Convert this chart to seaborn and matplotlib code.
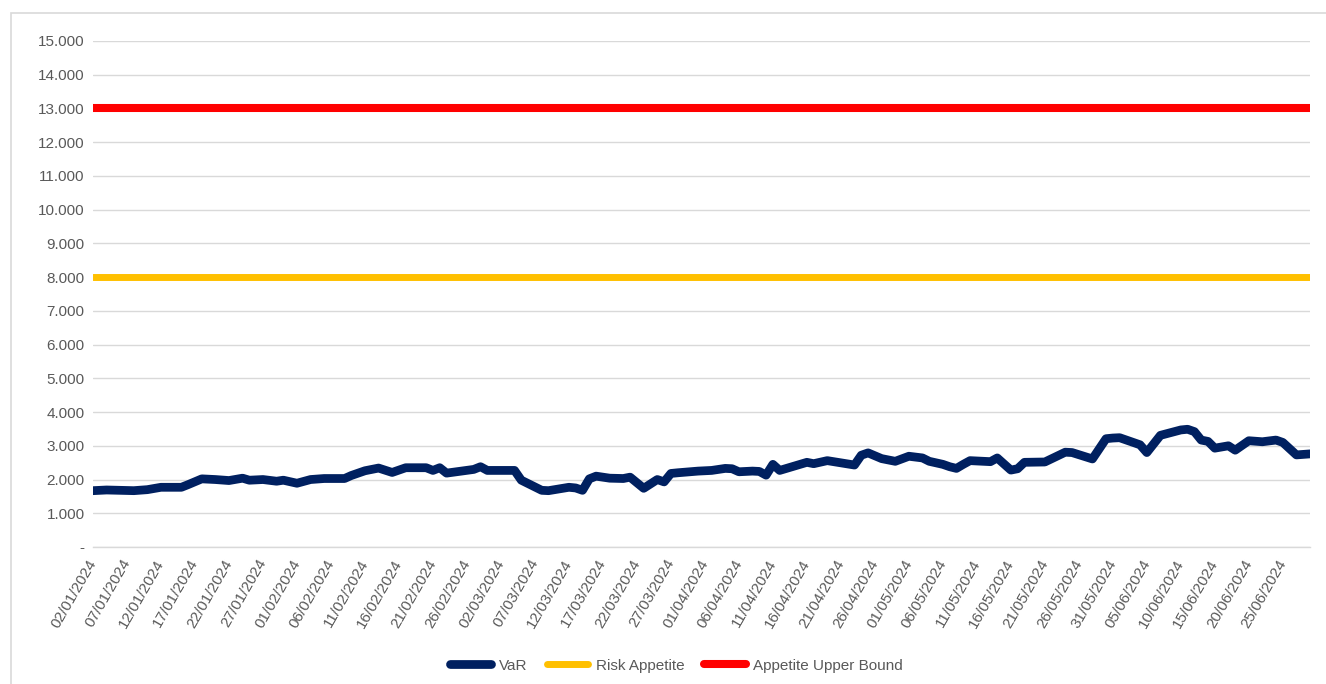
import matplotlib
matplotlib.use("Agg")
import matplotlib.pyplot as plt
import matplotlib.dates as mdates
from matplotlib.ticker import FuncFormatter, FixedLocator
from matplotlib.patches import Rectangle
import seaborn as sns
import pandas as pd

# ---------------- data ----------------
var_dates = [
    "02/01/2024", "04/01/2024", "08/01/2024", "10/01/2024", "12/01/2024", "15/01/2024",
    "16/01/2024", "18/01/2024", "20/01/2024", "22/01/2024", "24/01/2024", "25/01/2024",
    "27/01/2024", "29/01/2024", "30/01/2024", "01/02/2024", "03/02/2024", "05/02/2024",
    "08/02/2024", "09/02/2024", "11/02/2024", "13/02/2024", "15/02/2024", "17/02/2024",
    "20/02/2024", "21/02/2024", "22/02/2024", "23/02/2024", "27/02/2024", "28/02/2024",
    "29/02/2024", "04/03/2024", "05/03/2024", "06/03/2024", "08/03/2024", "09/03/2024",
    "12/03/2024", "13/03/2024", "14/03/2024", "15/03/2024", "16/03/2024", "18/03/2024",
    "20/03/2024", "21/03/2024", "23/03/2024", "25/03/2024", "26/03/2024", "27/03/2024",
    "28/03/2024", "31/03/2024", "02/04/2024", "04/04/2024", "05/04/2024", "06/04/2024",
    "08/04/2024", "09/04/2024", "10/04/2024", "11/04/2024", "12/04/2024", "16/04/2024",
    "17/04/2024", "19/04/2024", "23/04/2024", "24/04/2024", "25/04/2024", "27/04/2024",
    "29/04/2024", "01/05/2024", "03/05/2024", "04/05/2024", "06/05/2024", "07/05/2024",
    "08/05/2024", "09/05/2024", "10/05/2024", "13/05/2024", "14/05/2024", "16/05/2024",
    "17/05/2024", "18/05/2024", "21/05/2024", "24/05/2024", "25/05/2024", "28/05/2024",
    "30/05/2024", "31/05/2024", "01/06/2024", "03/06/2024", "04/06/2024", "05/06/2024",
    "07/06/2024", "10/06/2024", "11/06/2024", "12/06/2024", "13/06/2024", "14/06/2024",
    "15/06/2024", "17/06/2024", "18/06/2024", "20/06/2024", "22/06/2024", "24/06/2024",
    "25/06/2024", "27/06/2024", "29/06/2024",
]
var_values = [
    1670, 1690, 1670, 1700, 1770, 1770,
    1850, 2020, 2000, 1970, 2040, 1980,
    2000, 1950, 1980, 1890, 2000, 2030,
    2030, 2120, 2260, 2340, 2210, 2350,
    2350, 2270, 2350, 2190, 2300, 2380,
    2270, 2270, 1980, 1880, 1680, 1670,
    1770, 1750, 1680, 2020, 2100, 2040,
    2030, 2070, 1740, 2000, 1930, 2180,
    2200, 2250, 2270, 2330, 2320, 2230,
    2250, 2240, 2130, 2450, 2270, 2510,
    2470, 2560, 2430, 2720, 2790, 2620,
    2540, 2690, 2640, 2540, 2450, 2380,
    2330, 2450, 2560, 2530, 2640, 2280,
    2320, 2510, 2520, 2810, 2800, 2610,
    3210, 3230, 3240, 3100, 3030, 2800,
    3310, 3470, 3490, 3420, 3170, 3130,
    2930, 3000, 2870, 3150, 3120, 3170,
    3100, 2730, 2760,
]
risk_appetite = 8000
upper_bound = 13000
series_names = ["VaR", "Risk Appetite", "Appetite Upper Bound"]
series_colors = ["#002060", "#FFC000", "#FF0000"]
y_ticks = list(range(0, 15001, 1000))
x_start, x_end = "02/01/2024", "29/06/2024"
last_tick = "25/06/2024"

# ---------------- build frames ----------------
dates = pd.to_datetime(var_dates, format="%d/%m/%Y")
df_var = pd.DataFrame({"date": dates, "value": var_values})
df_ra = pd.DataFrame({"date": dates, "value": [risk_appetite] * len(dates)})
df_ub = pd.DataFrame({"date": dates, "value": [upper_bound] * len(dates)})
d0 = pd.to_datetime(x_start, format="%d/%m/%Y")
d1 = pd.to_datetime(x_end, format="%d/%m/%Y")
tick_dates = pd.date_range(d0, pd.to_datetime(last_tick, format="%d/%m/%Y"), freq="5D")

# ---------------- plot ----------------
sns.set_theme(style="white")
plt.rcParams["font.family"] = ["Liberation Sans", "DejaVu Sans"]
plt.rcParams["lines.solid_capstyle"] = "round"

fig = plt.figure(figsize=(13.26, 6.84), dpi=100)
ax = fig.add_axes([93 / 1326, 1 - 547 / 684, (1310 - 93) / 1326, (547 - 41) / 684])

grey_txt = "#595959"
grid_c = "#d9d9d9"
fs = 11

for frame, name, col, lw in zip([df_var, df_ra, df_ub], series_names, series_colors, [6.3, 5.0, 5.8]):
    sns.lineplot(data=frame, x="date", y="value", ax=ax, color=col, linewidth=lw, label=name)

ax.set_xlim(d0, d1)
ax.set_ylim(0, 15000)
ax.set_yticks(y_ticks)
ax.yaxis.set_major_formatter(FuncFormatter(lambda v, p: "-" if v == 0 else f"{v:,.0f}".replace(",", ".")))
ax.yaxis.grid(True, color=grid_c, linewidth=1.0)
ax.set_axisbelow(True)

ax.xaxis.set_major_locator(FixedLocator(mdates.date2num(tick_dates)))
ax.xaxis.set_major_formatter(mdates.DateFormatter("%d/%m/%Y"))
ax.set_xlabel("")
ax.set_ylabel("")

for s in ["left", "top", "right"]:
    ax.spines[s].set_visible(False)
ax.spines["bottom"].set_color(grid_c)
ax.spines["bottom"].set_linewidth(1.0)

ax.tick_params(axis="y", length=0, pad=6, labelsize=fs, labelcolor=grey_txt)
ax.tick_params(axis="x", length=3.6, width=1, color=grid_c, direction="out", pad=6,
               labelsize=fs, labelcolor=grey_txt)
for lab in ax.get_xticklabels():
    lab.set_rotation(60)
    lab.set_ha("right")
    lab.set_va("center")
    lab.set_rotation_mode("anchor")
for lab in ax.get_yticklabels():
    lab.set_ha("right")

ax.legend(loc="center", bbox_to_anchor=(0.51, 0.027), bbox_transform=fig.transFigure, ncol=3,
          frameon=False, fontsize=fs, handlelength=2.7, handletextpad=0.5, columnspacing=1.3,
          labelcolor=grey_txt)

fig.add_artist(Rectangle((11 / 1326, -0.1), 1.2, 1 - 13 / 684 + 0.1, transform=fig.transFigure,
                         fill=False, edgecolor=grid_c, linewidth=1.2))

fig.savefig("out.png", dpi=100)
